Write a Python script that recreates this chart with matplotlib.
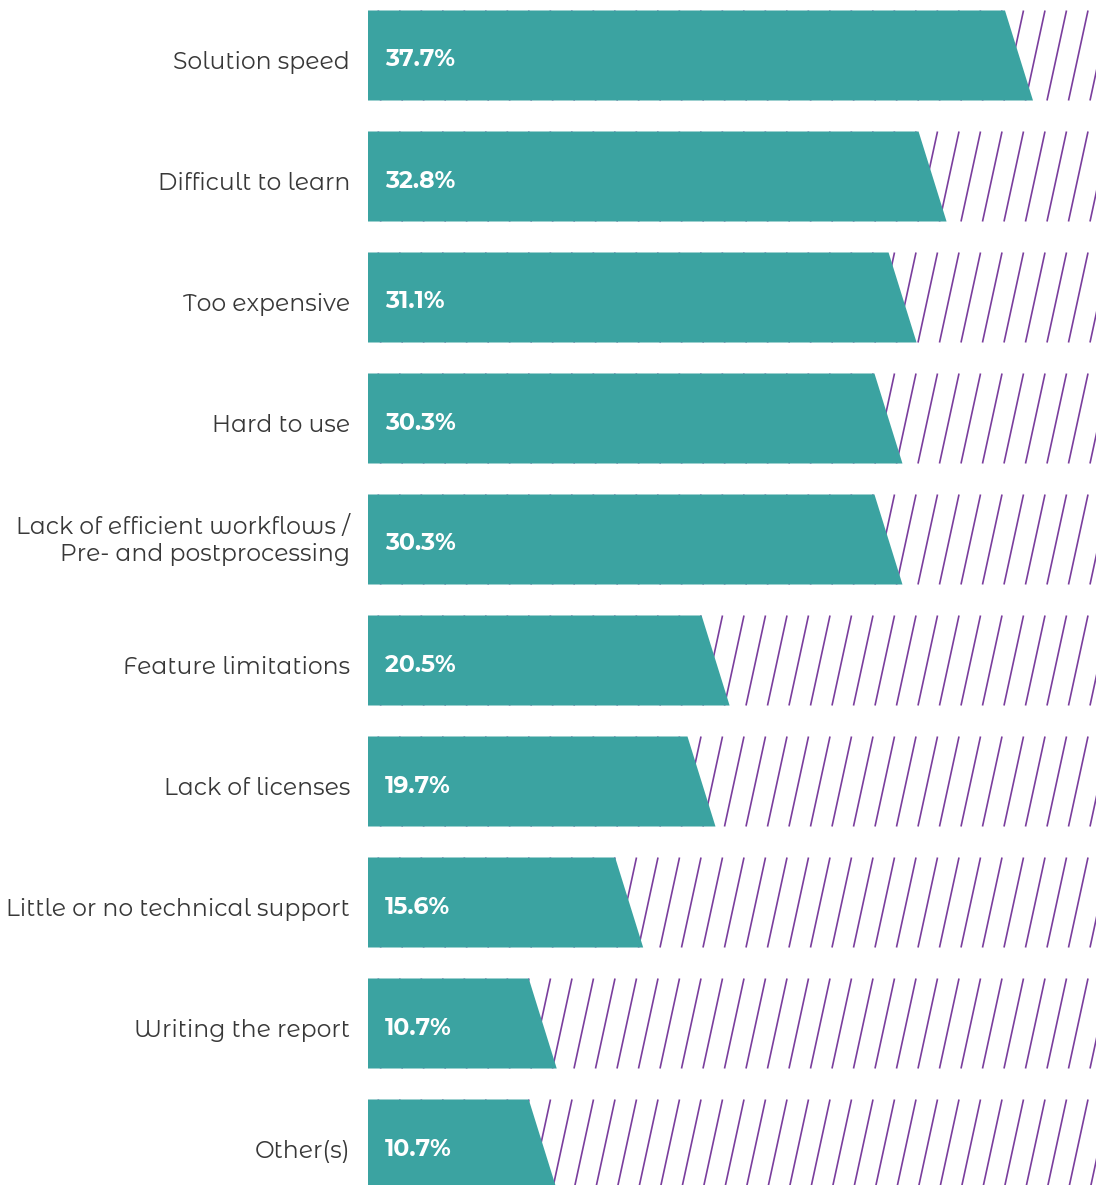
import numpy as np
import matplotlib
matplotlib.use("Agg")
import matplotlib.pyplot as plt
from matplotlib.patches import Polygon

categories = [
    "Solution speed",
    "Difficult to learn",
    "Too expensive",
    "Hard to use",
    "Lack of efficient workflows /\nPre- and postprocessing",
    "Feature limitations",
    "Lack of licenses",
    "Little or no technical support",
    "Writing the report",
    "Other(s)",
]
values = [37.7, 32.8, 31.1, 30.3, 30.3, 20.5, 19.7, 15.6, 10.7, 10.7]
value_labels = ["37.7%", "32.8%", "31.1%", "30.3%", "30.3%",
                "20.5%", "19.7%", "15.6%", "10.7%", "10.7%"]

BAR_COLOR = "#3BA3A1"
HATCH_COLOR = "#7A3E9D"
TEXT_COLOR = "#383838"
FAMILY = ["Montserrat Alternates", "Open Sans", "DejaVu Sans"]

W, H, DPI = 1096, 1185, 100
fig = plt.figure(figsize=(W / DPI, H / DPI), dpi=DPI)
fig.patch.set_facecolor("white")

ax_left_px = 368
ax = fig.add_axes([ax_left_px / W, 0, 1 - ax_left_px / W, 1])
px_per_unit = (1033 - ax_left_px) / 37.7
xmax = (W - ax_left_px) / px_per_unit
ax.set_xlim(0, xmax)

pitch_px = 121.0
first_center_px = 55.5
ax.set_ylim((H - first_center_px) / pitch_px, -first_center_px / pitch_px)
ax.axis("off")

bar_h = 90 / pitch_px
slant = 28 / px_per_unit          # horizontal run of the slanted bar end
hatch_gap = 21.5 / px_per_unit    # spacing of the diagonal stripes
hatch_run = 19.5 / px_per_unit    # stripe lean across one band
hatch_phase = (531 - ax_left_px) / px_per_unit

for i, (v, lab) in enumerate(zip(values, value_labels)):
    top, bot = i - bar_h / 2, i + bar_h / 2
    # diagonal stripes across the whole band, behind the bar
    starts = np.arange(hatch_phase - 40 * hatch_gap, xmax + hatch_gap, hatch_gap)
    for xs in starts:
        ax.plot([xs + hatch_run, xs], [top, bot], color=HATCH_COLOR,
                lw=1.2, solid_capstyle="butt", zorder=1, clip_on=True)
    # bar with slanted right edge
    poly = Polygon([(0, top), (v - slant, top), (v, bot), (0, bot)],
                   closed=True, facecolor=BAR_COLOR, edgecolor="none", zorder=2)
    ax.add_patch(poly)
    ax.text(17 / px_per_unit, i + 11 / pitch_px, lab, color="white",
            fontsize=17, fontweight="bold", family=FAMILY,
            va="baseline", ha="left", zorder=3)
    name = categories[i]
    dy = 21.5 if "\n" in name else 13
    ax.text(-18 / px_per_unit, i + dy / pitch_px, name, color=TEXT_COLOR,
            fontsize=16.9, fontweight="normal", family=FAMILY,
            va="baseline", ha="right", linespacing=1.25, clip_on=False, zorder=3)

fig.savefig("out.png", dpi=DPI, facecolor="white")
